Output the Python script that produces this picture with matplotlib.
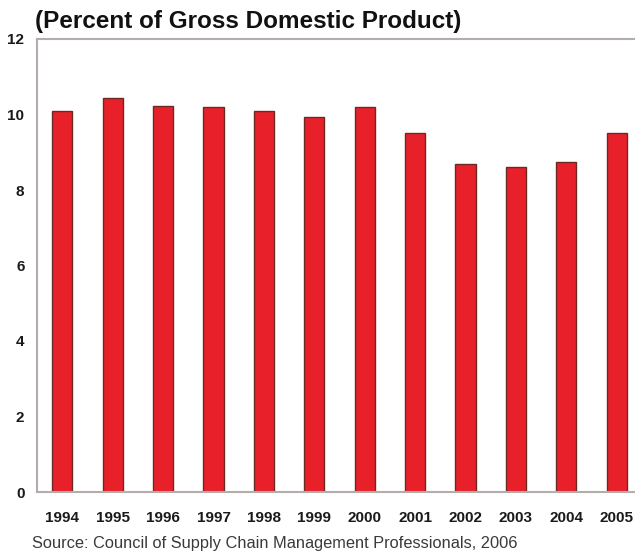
import matplotlib
matplotlib.use('Agg')
import matplotlib.pyplot as plt

# data
years = ['1994', '1995', '1996', '1997', '1998', '1999',
         '2000', '2001', '2002', '2003', '2004', '2005']
pct_gdp = [10.1, 10.45, 10.22, 10.2, 10.1, 9.93, 10.2, 9.5, 8.7, 8.6, 8.73, 9.5]
y_ticks = [0, 2, 4, 6, 8, 10, 12]

plt.rcParams['font.family'] = ['Liberation Sans', 'DejaVu Sans']

fig = plt.figure(figsize=(6.35, 5.58), dpi=100)
# axes run a little past the right edge, like the cropped original
ax = fig.add_axes([37 / 635, 66 / 558, 605 / 635, 453 / 558])

x = list(range(len(years)))
ax.bar(x, pct_gdp, width=0.4, color='#e8202a', edgecolor='#6b2a22', linewidth=1.0)

ax.set_xlim(-0.5, len(years) - 0.5)
ax.set_ylim(0, 12)
ax.set_yticks(y_ticks)
ax.set_xticks(x)
ax.set_xticklabels(years)
ax.tick_params(axis='both', length=0, labelsize=11)
ax.tick_params(axis='y', pad=9)
ax.tick_params(axis='x', pad=14)
for lbl in ax.get_xticklabels() + ax.get_yticklabels():
    lbl.set_fontweight('bold')
    lbl.set_color('#1a1a1a')

for side in ['left', 'top', 'bottom']:
    ax.spines[side].set_color('#b5acac')
    ax.spines[side].set_linewidth(1.5)
ax.spines['right'].set_visible(False)

fig.text(35 / 635, 1 - 28 / 558, '(Percent of Gross Domestic Product)',
         fontsize=17.5, fontweight='bold', color='#111111', ha='left', va='baseline')
fig.text(32 / 635, 1 - 548 / 558, 'Source: Council of Supply Chain Management Professionals, 2006',
         fontsize=11.8, color='#3a3a3a', ha='left', va='baseline')

fig.savefig('out.png', dpi=100)
